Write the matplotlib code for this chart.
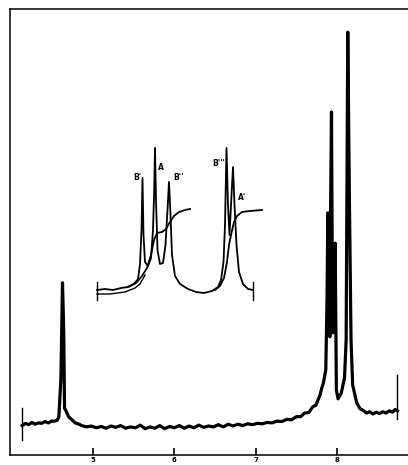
import matplotlib
matplotlib.use("Agg")
import matplotlib.pyplot as plt

# main spectrum, chemical shift (tau, ppm) and relative intensity
shift = [4.13, 4.17, 4.21, 4.25, 4.29, 4.33, 4.37, 4.41, 4.45, 4.49, 4.53, 4.56,
         4.58, 4.605, 4.625, 4.64, 4.65, 4.67, 4.70, 4.74, 4.78, 4.83,
         4.86, 4.92, 4.98, 5.04, 5.10, 5.16, 5.22, 5.28, 5.34, 5.40, 5.46, 5.52,
         5.58, 5.64, 5.70, 5.76, 5.82, 5.88, 5.94, 6.00, 6.06, 6.12, 6.18, 6.24,
         6.30, 6.36, 6.42, 6.48, 6.54, 6.60, 6.66, 6.72, 6.78, 6.84, 6.90, 6.96,
         7.02, 7.08, 7.14, 7.20, 7.26, 7.32, 7.38, 7.44, 7.50, 7.55, 7.60, 7.65,
         7.70, 7.74, 7.77, 7.79, 7.81, 7.83, 7.86, 7.875, 7.885, 7.90, 7.91, 7.92,
         7.93, 7.94, 7.95, 7.96, 7.975, 7.99, 8.01, 8.05, 8.09, 8.11, 8.13, 8.15,
         8.17, 8.19, 8.24, 8.28, 8.32, 8.36, 8.40, 8.44, 8.48, 8.52, 8.56, 8.60,
         8.64, 8.68, 8.71, 8.74]
intensity = [6.6, 7.1, 6.8, 7.3, 6.9, 7.2, 7.1, 7.5, 7.2, 7.6, 7.6, 7.8,
             8.5, 16.8, 38.6, 28.0, 10.5, 9.8, 8.6, 7.9, 7.2, 6.9,
             6.6, 6.3, 6.5, 6.1, 6.4, 6.0, 6.5, 6.2, 6.6, 6.0, 6.3, 6.1,
             6.7, 5.9, 6.3, 6.0, 6.6, 5.9, 6.4, 6.1, 6.6, 6.0, 6.5, 6.1,
             6.7, 6.2, 6.5, 6.3, 6.8, 6.3, 6.9, 6.5, 6.9, 6.6, 7.0, 6.8,
             7.1, 7.0, 7.3, 7.2, 7.6, 7.5, 8.0, 7.9, 8.6, 8.6, 9.4, 9.5,
             10.8, 11.2, 12.6, 13.5, 15.0, 16.1, 19.1, 34.8, 54.3, 34.8, 26.5, 57.2,
             76.9, 40.0, 27.4, 34.8, 47.5, 14.6, 12.6, 13.9, 17.3, 25.8, 94.8, 57.2,
             25.8, 15.7, 11.7, 10.4, 10.0, 9.4, 9.7, 9.2, 9.6, 9.3, 9.7, 9.4,
             9.9, 9.6, 10.2, 9.9]
start_mark = (4.127, 3.4, 10.5)
end_mark = (8.74, 8.0, 18.0)
tick_vals = [5, 6, 7, 8]
tick_labels = ["5", "6", "7", "8"]

# expanded inset trace (relative units)
ins_x = [7, 15, 23, 31, 38, 44, 48, 50, 51.5, 52.5, 53.5, 55, 58, 61, 63, 64.2,
         65, 66, 67.5, 70, 73, 75.5, 77.5, 79, 80.5, 82, 85, 90, 98, 106, 114,
         122, 128, 131, 133.5, 135, 136.5, 138, 139.5, 141, 143, 144.5, 146.5,
         149, 153, 158, 163]
ins_y = [15, 16, 15, 17, 18, 21, 26, 41, 75, 127, 70, 43, 39, 47, 75, 115,
         157, 105, 55, 41, 42, 60, 95, 123, 90, 50, 29, 21, 16, 13, 12,
         14, 18, 25, 43, 80, 157, 100, 70, 100, 138, 100, 60,
         33, 21, 16, 15]
ins2_x = [7, 20, 35, 45, 50, 55]
ins2_y = [11, 11, 13, 17, 21, 30]
integ1_x = [38, 46, 52, 57, 61, 64, 67, 72, 76, 80, 84, 89, 95, 100]
integ1_y = [18, 22, 29, 37, 50, 65, 72, 73, 76, 83, 89, 93, 95, 96]
integ2_x = [125, 130, 134, 137, 139, 141, 144, 147, 152, 160, 172]
integ2_y = [15, 19, 27, 43, 60, 70, 83, 89, 93, 94, 95]
ins_marks = [7, 163]
peak_names = ["B'", "A", "B''", "B'''", "A'"]
peak_label_x = [47, 71, 88, 129, 152]
peak_label_y = [128, 137, 128, 142, 107]

fig = plt.figure(figsize=(4.08, 4.65), dpi=100)
ax = fig.add_axes([10 / 408, 10 / 465, 398 / 408, 446 / 465])
ax.plot(shift, intensity, color="black", linewidth=2.3, solid_joinstyle="round")
ax.plot([start_mark[0]] * 2, start_mark[1:], color="black", linewidth=1.0)
ax.plot([end_mark[0]] * 2, end_mark[1:], color="black", linewidth=1.0)
ax.set_xlim(3.98, 8.87)
ax.set_ylim(0, 100)
ax.set_xticks(tick_vals)
ax.set_xticklabels(tick_labels, fontsize=5, fontweight="bold")
ax.set_yticks([])
ax.tick_params(axis="x", direction="in", length=5, width=1.2, pad=1.5)
ax.spines["right"].set_visible(False)
for s in ["top", "left", "bottom"]:
    ax.spines[s].set_linewidth(1.1)

ins = fig.add_axes([90 / 408, 160 / 465, 180 / 408, 165 / 465])
ins.set_xlim(0, 180)
ins.set_ylim(0, 165)
ins.axis("off")
ins.plot(ins_x, ins_y, color="black", linewidth=1.3, solid_joinstyle="round")
ins.plot(ins2_x, ins2_y, color="black", linewidth=1.0)
ins.plot(integ1_x, integ1_y, color="black", linewidth=1.3)
ins.plot(integ2_x, integ2_y, color="black", linewidth=1.3)
for m in ins_marks:
    ins.plot([m, m], [5, 23], color="black", linewidth=1.0)
for name, lx, ly in zip(peak_names, peak_label_x, peak_label_y):
    ins.text(lx, ly, name, fontsize=5.5, fontweight="bold", ha="center", va="center")

fig.savefig("out.png", dpi=100, facecolor="white")
